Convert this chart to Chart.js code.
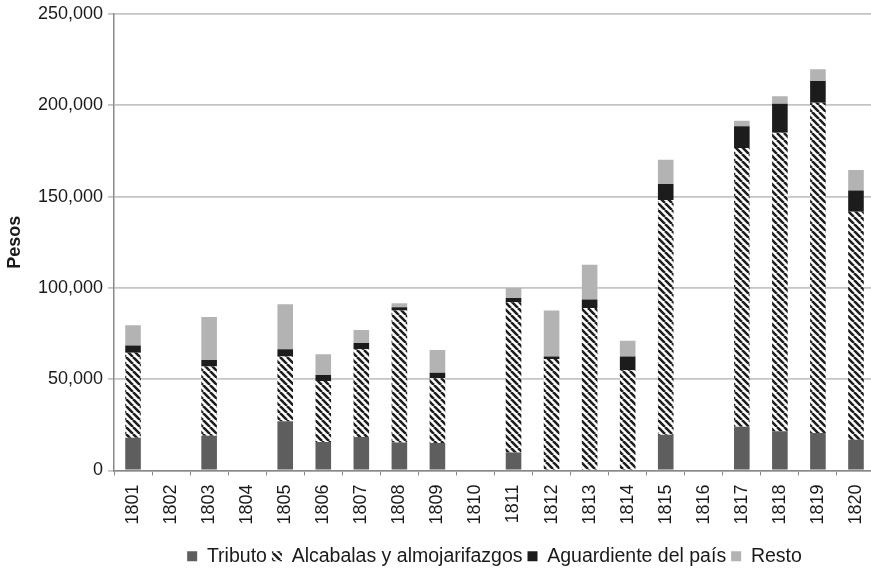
<!DOCTYPE html>
<html>
<head>
<meta charset="utf-8">
<script src="https://cdn.jsdelivr.net/npm/chart.js@4/dist/chart.umd.min.js"></script>
<style>
  html, body { margin: 0; padding: 0; background: #fff; overflow: hidden; }
  #wrap { width: 875px; height: 569px; }
</style>
</head>
<body>
<div id="wrap"><canvas id="taxChart"></canvas></div>
<script>
/* Revenue by branch, 1801-1820. */
const years = ['1801', '1802', '1803', '1804', '1805', '1806', '1807', '1808', '1809', '1810',
               '1811', '1812', '1813', '1814', '1815', '1816', '1817', '1818', '1819', '1820'];
const tributo     = [18000, 0, 19000, 0, 27000, 15600, 18400, 15400, 15000, 0,
                     9900, 0, 0, 0, 19600, 0, 23900, 21500, 20500, 16900];
const alcabalas   = [46500, 0, 38000, 0, 35400, 33400, 48000, 72200, 35500, 0,
                     82200, 61000, 89000, 54900, 128500, 0, 152700, 163400, 180900, 124800];
const aguardiente = [4000, 0, 3500, 0, 4000, 3300, 3400, 1800, 3100, 0,
                     2400, 1400, 4600, 7500, 8800, 0, 11900, 15900, 11900, 11600];
const resto       = [11000, 0, 23500, 0, 24600, 11400, 7200, 2200, 12400, 0,
                     5500, 25200, 19100, 8600, 13300, 0, 3100, 4200, 6400, 11300];
const yTicks = [0, 50000, 100000, 150000, 200000, 250000];

function hatch() {
    const s = 7;
    const c = document.createElement('canvas');
    c.width = s; c.height = s;
    const g = c.getContext('2d');
    g.fillStyle = '#fff';
    g.fillRect(0, 0, s, s);
    g.strokeStyle = '#1e1e1e';
    g.lineWidth = 2.6;
    g.beginPath();
    [-s, 0, s].forEach((o) => { g.moveTo(o, 0); g.lineTo(o + s, s); });
    g.stroke();
    return g.createPattern(c, 'repeat');
}

const family = '"Liberation Sans", Arial, sans-serif';
const tickFont = { family: family, size: 18 };
Chart.defaults.font.family = family;
Chart.defaults.color = '#1a1a1a';

new Chart(document.getElementById('taxChart'), {
    type: 'bar',
    data: {
        labels: years,
        datasets: [
            { label: 'Tributo', data: tributo, backgroundColor: '#5e5e5e' },
            { label: 'Alcabalas y almojarifazgos', data: alcabalas, backgroundColor: hatch() },
            { label: 'Aguardiente del país', data: aguardiente, backgroundColor: '#1c1c1c' },
            { label: 'Resto', data: resto, backgroundColor: '#b3b3b3' },
        ],
    },
    options: {
        responsive: true,
        maintainAspectRatio: false,
        animation: false,
        layout: { padding: { top: 14, right: 0, left: 0, bottom: -7 } },
        datasets: { bar: { barPercentage: 0.82, categoryPercentage: 0.5 } },
        plugins: {
            legend: {
                position: 'bottom',
                fullSize: false,
                labels: { font: { family: family, size: 19.5 }, boxWidth: 10, boxHeight: 10,
                          padding: 5, color: '#1a1a1a' },
            },
            tooltip: { enabled: false },
        },
        scales: {
            x: {
                stacked: true,
                grid: { display: true, drawOnChartArea: false, drawTicks: true, tickLength: 5,
                        color: '#888', offset: true },
                border: { color: '#888', width: 1.5 },
                ticks: { font: tickFont, minRotation: 90, maxRotation: 90, padding: 9, autoSkip: false },
                afterFit: (s) => { s.height = 71; s.paddingLeft = 0; s.paddingRight = 0; },
            },
            y: {
                stacked: true,
                min: 0,
                max: 250000,
                afterBuildTicks: (axis) => { axis.ticks = yTicks.map((v) => ({ value: v })); },
                grid: { color: '#c4c4c4', lineWidth: 1.8, tickLength: 6 },
                border: { color: '#888', width: 1.5 },
                ticks: { font: tickFont, padding: 5, callback: (v) => v.toLocaleString('en-US') },
                title: { display: true, text: 'Pesos', font: { family: family, size: 18, weight: 'bold' },
                         padding: { top: 4, bottom: 0 } },
                afterFit: (s) => { s.width = 114; s.paddingTop = 0; s.paddingBottom = 0; },
            },
        },
    },
});
</script>
</body>
</html>
